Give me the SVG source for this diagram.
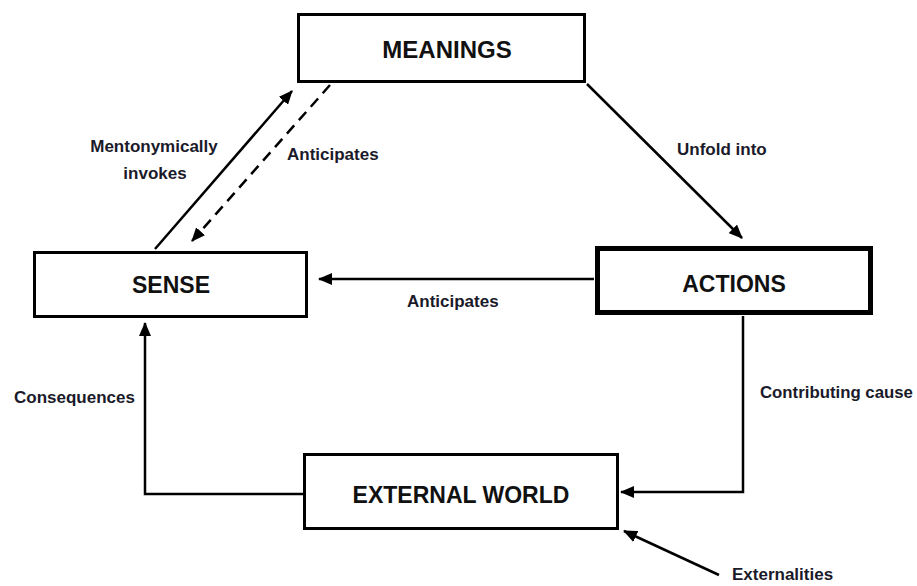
<svg xmlns="http://www.w3.org/2000/svg" width="917" height="586" viewBox="0 0 917 586">
<style>
.box{fill:#fff;stroke:#000;stroke-width:3}
.thick{stroke-width:5}
.nt{font-family:"Liberation Sans",Arial,sans-serif;font-weight:bold;font-size:23px;fill:#111;text-anchor:middle}
.lb{font-family:"Liberation Sans",Arial,sans-serif;font-weight:bold;font-size:17px;fill:#1a1a2a}
.c{fill:none;stroke:#000;stroke-width:2.5}
.d{stroke-dasharray:11 7}
</style>
<defs>
<marker id="ah" markerUnits="userSpaceOnUse" markerWidth="14" markerHeight="12" viewBox="0 0 14 12" refX="13" refY="6" orient="auto">
<path d="M0,0 L14,6 L0,12 Z" fill="#000"/>
</marker>
</defs>
<g id="connectors">
<path class="c" d="M155,249 L292,91" marker-end="url(#ah)"/>
<path class="c d" d="M330,85 L192,241" marker-end="url(#ah)"/>
<path class="c" d="M587,84 L742,238" marker-end="url(#ah)"/>
<path class="c" d="M594,279 L319,279" marker-end="url(#ah)"/>
<path class="c" d="M743,316 L743,492 L621,492" marker-end="url(#ah)"/>
<path class="c" d="M304,494 L145,494 L145,323" marker-end="url(#ah)"/>
<path class="c" d="M719,575 L624,531" marker-end="url(#ah)"/>
</g>
<g id="labels">
<text class="lb" x="154" y="152" text-anchor="middle">Mentonymically</text>
<text class="lb" x="155" y="179" text-anchor="middle">invokes</text>
<text class="lb" x="287" y="160">Anticipates</text>
<text class="lb" x="677" y="155">Unfold into</text>
<text class="lb" x="407" y="307">Anticipates</text>
<text class="lb" x="14" y="403">Consequences</text>
<text class="lb" x="760" y="398" style="font-size:16.8px">Contributing cause</text>
<text class="lb" x="732" y="580">Externalities</text>
</g>
<g id="meanings">
<rect class="box" x="298.5" y="14.5" width="286" height="67"/>
<text class="nt" x="447" y="58" style="font-size:24px">MEANINGS</text>
</g>
<g id="sense">
<rect class="box" x="34.5" y="252.5" width="272" height="64"/>
<text class="nt" x="171" y="293">SENSE</text>
</g>
<g id="actions">
<rect class="box thick" x="597.5" y="248.5" width="273" height="64"/>
<text class="nt" x="734" y="292">ACTIONS</text>
</g>
<g id="external-world">
<rect class="box" x="304.5" y="454.5" width="313" height="74"/>
<text class="nt" x="461" y="503">EXTERNAL WORLD</text>
</g>
</svg>
